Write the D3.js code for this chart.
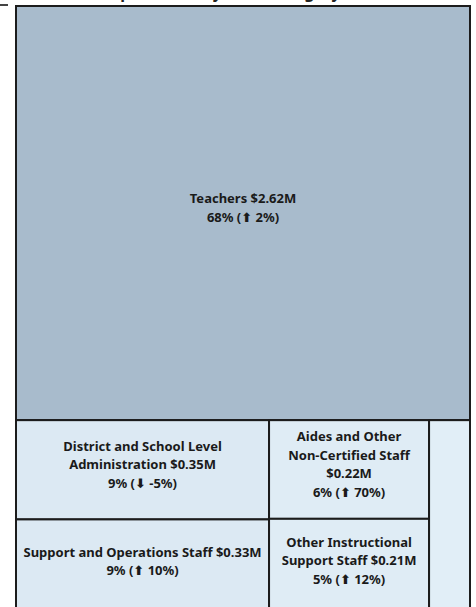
<!DOCTYPE html>
<html>
<head>
<meta charset="utf-8">
<script src="https://cdn.jsdelivr.net/npm/d3@7"></script>
<style>
  body { margin: 0; background: #fff; }
  svg { display: block; }
</style>
</head>
<body>
<svg id="chart"></svg>
<script>
// values (millions of dollars)
const categories = ["Teachers", "District and School Level Administration", "Support and Operations Staff",
  "Aides and Other Non-Certified Staff", "Other Instructional Support Staff", "Other"]
const amounts = [2.62, 0.35, 0.33, 0.22, 0.21, 0.11]
const shares = [68, 9, 9, 6, 5, 3]
const changes = [2, -5, 10, 70, 12, null]
const columns = [null, "a", "a", "b", "b", "c"]

const width = 476
const height = 607
const margin = { left: 16, top: 6, right: 6 }
const lineGap = 18.5

const svg = d3.select("#chart")
  .attr("width", width)
  .attr("height", height)

// cut off title and stray mark above the chart
svg.append("text")
  .attr("x", 102)
  .attr("y", -2)
  .attr("font-family", "Noto Sans, sans-serif")
  .attr("font-weight", "bold")
  .attr("font-size", 16)
  .attr("fill", "#222")
  .text("Expenditure by Staff Category")
svg.append("line")
  .attr("x1", 0).attr("x2", 8)
  .attr("y1", 5).attr("y2", 5)
  .attr("stroke", "#444")
  .attr("stroke-width", 2)

// nested data: teachers on top, the rest in columns below
const items = categories.map((name, i) => ({
  name, value: amounts[i], share: shares[i], change: changes[i], col: columns[i]
}))
const rest = Array.from(d3.group(items.filter(d => d.col), d => d.col), ([key, values]) => ({ name: key, children: values }))
const data = { name: "root", children: [items[0], { name: "rest", children: rest }] }

const root = d3.hierarchy(data).sum(d => d.children ? 0 : d.value)

const innerW = width - margin.left - margin.right
const innerH = 607 // chart runs a little past the bottom edge

function tile(node, x0, y0, x1, y1) {
  if (node.depth === 1) d3.treemapDice(node, x0, y0, x1, y1)
  else d3.treemapSlice(node, x0, y0, x1, y1)
}

d3.treemap()
  .tile(tile)
  .size([innerW, innerH])
  .padding(0)(root)

const color = d3.scaleLinear()
  .domain([0, d3.max(amounts)])
  .range(["#e4f0f9", "#a8bbcc"])

const g = svg.append("g")
  .attr("transform", `translate(${margin.left}, ${margin.top})`)

const cell = g.selectAll("g.cell")
  .data(root.leaves())
  .join("g")
  .attr("class", "cell")
  .attr("transform", d => `translate(${d.x0}, ${d.y0})`)

cell.append("rect")
  .attr("width", d => d.x1 - d.x0)
  .attr("height", d => d.y1 - d.y0)
  .attr("fill", d => color(d.data.value))
  .attr("stroke", "#1c1c1c")
  .attr("stroke-width", 2)

function wrap(words, maxW, textEl) {
  const lines = []
  let cur = ""
  const probe = textEl.append("tspan")
  for (const w of words) {
    const test = cur ? cur + " " + w : w
    probe.text(test)
    if (probe.node().getComputedTextLength() > maxW && cur) {
      lines.push(cur)
      cur = w
    } else {
      cur = test
    }
  }
  if (cur) lines.push(cur)
  probe.remove()
  return lines
}

cell.each(function (d) {
  const w = d.x1 - d.x0
  const h = d.y1 - d.y0
  if (w < 60) return
  const text = d3.select(this).append("text")
    .attr("text-anchor", "middle")
    .attr("font-family", "Noto Sans, sans-serif")
    .attr("font-weight", "bold")
    .attr("font-size", 13)
    .attr("fill", "#1a1a1a")
  const words = `${d.data.name} $${d.data.value.toFixed(2)}M`.split(" ")
  const lines = wrap(words, w - 12, text)
  const n = lines.length + 1
  const startY = h / 2 - 5 - (n - 1) * lineGap / 2
  lines.forEach((line, i) => {
    text.append("tspan")
      .attr("x", w / 2)
      .attr("y", startY + i * lineGap)
      .attr("dy", "0.35em")
      .text(line)
  })
  const last = text.append("tspan")
    .attr("x", w / 2)
    .attr("y", startY + lines.length * lineGap)
    .attr("dy", "0.35em")
  last.append("tspan").text(`${d.data.share}% (`)
  last.append("tspan")
    .attr("font-family", "DejaVu Sans, sans-serif")
    .attr("font-size", 13)
    .text(d.data.change >= 0 ? "\u2B06" : "\u2B07")
  last.append("tspan").text(` ${d.data.change}%)`)
})
</script>
</body>
</html>
